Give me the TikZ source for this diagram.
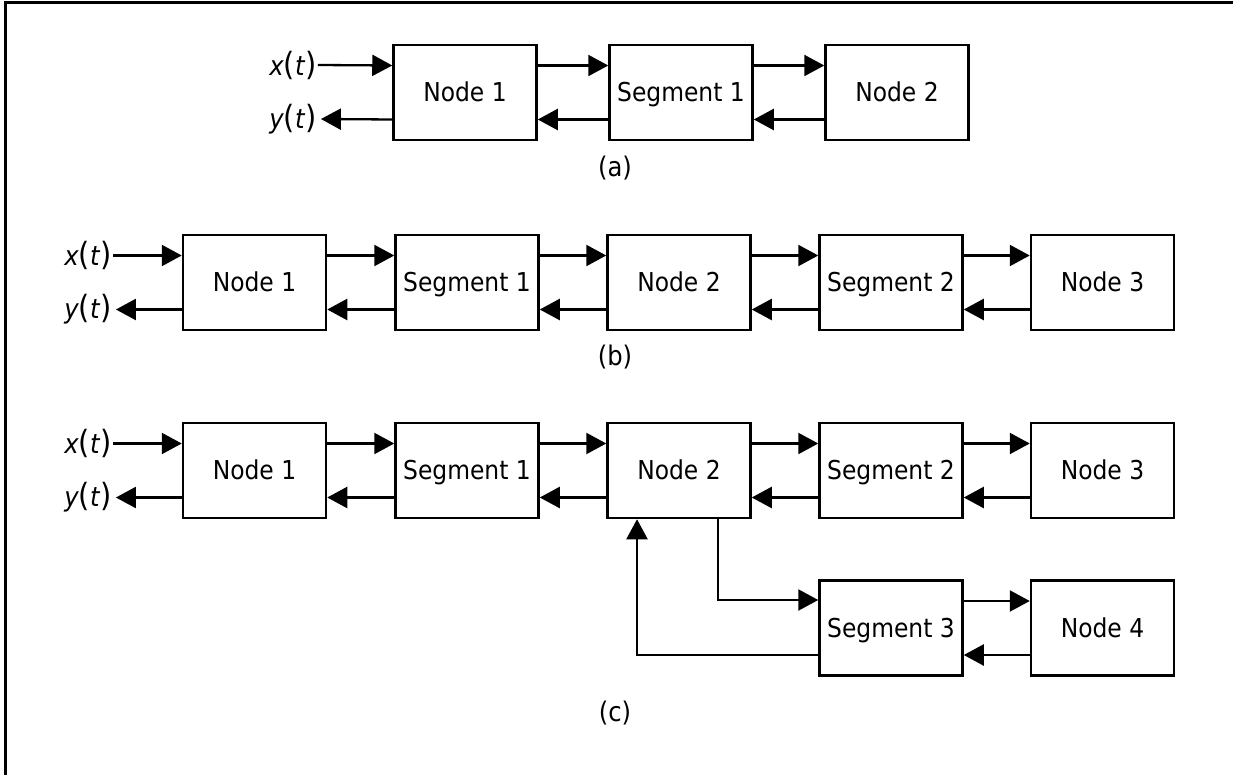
\documentclass[tikz,border=0pt]{standalone}
\usepackage{fontspec}
\setmainfont{DejaVu Sans Condensed}
\usetikzlibrary{arrows.meta}
\newcommand{\sigtxt}[1]{\textit{#1}{\fontsize{32}{32}\selectfont(}\textit{t}{\fontsize{32}{32}\selectfont)}}
\begin{document}
\begin{tikzpicture}[x=1pt,y=-1pt,
  blk/.style={draw, line width=2.5pt, minimum width=143pt, minimum height=95pt, inner sep=0pt, text height=18pt, text depth=0pt, font=\fontsize{26}{30}\selectfont},
  arr/.style={line width=2.3pt, -{Triangle[length=20pt,width=21pt]}},
  sig/.style={inner sep=1pt, font=\fontsize{27}{30}\selectfont},
  sublabel/.style={font=\fontsize{27}{30}\selectfont}]
\useasboundingbox (0,0) rectangle (1233,775);
\draw[line width=3pt] (5,775) -- (5,3) -- (1233,3);

% (a)
\node[blk] (an1) at (465,92.5) {Node 1};
\node[blk] (as1) at (681,92.5) {Segment 1};
\node[blk] (an2) at (897,92.5) {Node 2};
\node[sig] (ax) at (293,65) {\sigtxt{x}};
\node[sig] (ay) at (293,119) {\sigtxt{y}};
\draw[arr] (ax.east) -- ([yshift=27pt]an1.west);
\draw[arr] ([yshift=-27pt]an1.west) -- ([xshift=3pt]ay.east);
\draw[arr] ([yshift=27pt]an1.east) -- ([yshift=27pt]as1.west);
\draw[arr] ([yshift=-27pt]as1.west) -- ([yshift=-27pt]an1.east);
\draw[arr] ([yshift=27pt]as1.east) -- ([yshift=27pt]an2.west);
\draw[arr] ([yshift=-27pt]an2.west) -- ([yshift=-27pt]as1.east);
\node[sublabel] (la) at (615,168) {(a)};

% (b)
\node[blk] (bn1) at (254.5,282.5) {Node 1};
\node[blk] (bs1) at (467,282.5) {Segment 1};
\node[blk] (bn2) at (679,282.5) {Node 2};
\node[blk] (bs2) at (891,282.5) {Segment 2};
\node[blk] (bn3) at (1102.5,282.5) {Node 3};
\node[sig] (bx) at (88,255.5) {\sigtxt{x}};
\node[sig] (by) at (88,309.5) {\sigtxt{y}};
\draw[arr] (bx.east) -- ([yshift=27pt]bn1.west);
\draw[arr] ([yshift=-27pt]bn1.west) -- ([xshift=3pt]by.east);
\foreach \a/\b in {bn1/bs1,bs1/bn2,bn2/bs2,bs2/bn3}{
  \draw[arr] ([yshift=27pt]\a.east) -- ([yshift=27pt]\b.west);
  \draw[arr] ([yshift=-27pt]\b.west) -- ([yshift=-27pt]\a.east);
}
\node[sublabel] (lb) at (615,357) {(b)};

% (c)
\node[blk] (cn1) at (254.5,470.5) {Node 1};
\node[blk] (cs1) at (467,470.5) {Segment 1};
\node[blk] (cn2) at (679,470.5) {Node 2};
\node[blk] (cs2) at (891,470.5) {Segment 2};
\node[blk] (cn3) at (1102.5,470.5) {Node 3};
\node[blk] (cs3) at (891,628) {Segment 3};
\node[blk] (cn4) at (1102.5,628) {Node 4};
\node[sig] (cx) at (88,443.5) {\sigtxt{x}};
\node[sig] (cy) at (88,497.5) {\sigtxt{y}};
\draw[arr] (cx.east) -- ([yshift=27pt]cn1.west);
\draw[arr] ([yshift=-27pt]cn1.west) -- ([xshift=3pt]cy.east);
\foreach \a/\b in {cn1/cs1,cs1/cn2,cn2/cs2,cs2/cn3,cs3/cn4}{
  \draw[arr] ([yshift=27pt]\a.east) -- ([yshift=27pt]\b.west);
  \draw[arr] ([yshift=-27pt]\b.west) -- ([yshift=-27pt]\a.east);
}
\draw[arr] ([xshift=39pt]cn2.south) |- ([yshift=28pt]cs3.west);
\draw[arr] ([yshift=-27pt]cs3.west) -| ([xshift=-42pt]cn2.south);
\node[sublabel] (lc) at (615,713) {(c)};
\end{tikzpicture}
\end{document}
